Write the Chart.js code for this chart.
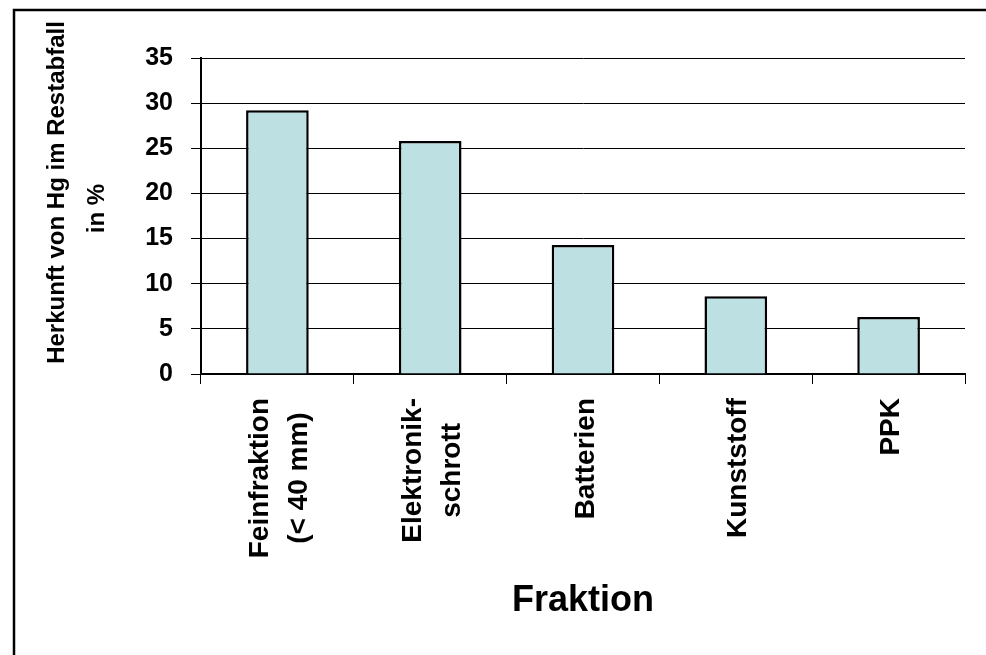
<!DOCTYPE html>
<html>
<head>
<meta charset="utf-8">
<script src="https://cdn.jsdelivr.net/npm/chart.js@4.4.1/dist/chart.umd.min.js"></script>
<style>
  html, body { margin: 0; padding: 0; background: #ffffff; }
  #wrap { width: 986px; height: 655px; position: relative; }
  canvas { display: block; }
</style>
</head>
<body>
<div id="wrap"><canvas id="c" width="986" height="655"></canvas></div>
<script>
// ---- data ----
const categories = [["Feinfraktion", "(< 40 mm)"], ["Elektronik-", "schrott"], ["Batterien"], ["Kunststoff"], ["PPK"]];
const values = [29.2, 25.8, 14.3, 8.6, 6.3];
const yTitleLines = ["Herkunft von Hg im Restabfall", "in %"];
const xTitle = "Fraktion";
const yMin = 0, yMax = 35, yStep = 5;

const FONT = "'Liberation Sans', Arial, Helvetica, sans-serif";

const customText = {
  id: 'customText',
  afterDraw(chart) {
    const ctx = chart.ctx;
    const xs = chart.scales.x;
    ctx.save();
    // outer frame (left + top edges visible)
    ctx.strokeStyle = '#000';
    ctx.lineWidth = 2.5;
    ctx.beginPath();
    ctx.moveTo(14, 660);
    ctx.lineTo(14, 10);
    ctx.lineTo(990, 10);
    ctx.stroke();

    // x category labels, rotated, lines centred on each other
    ctx.fillStyle = '#000';
    ctx.font = 'bold 28px ' + FONT;
    ctx.textAlign = 'center';
    ctx.textBaseline = 'alphabetic';
    const lineGap = 39;
    categories.forEach((lines, i) => {
      const cx = xs.getPixelForValue(i);
      const maxW = Math.max(...lines.map(l => ctx.measureText(l).width));
      const cy = chart.chartArea.bottom + 24 + maxW / 2;
      lines.forEach((l, j) => {
        const bx = cx + (j - (lines.length - 1) / 2) * lineGap + 10.5;
        ctx.save();
        ctx.translate(bx, cy);
        ctx.rotate(-Math.PI / 2);
        ctx.fillText(l, 0, 0);
        ctx.restore();
      });
    });

    // y axis title
    ctx.font = 'bold 24px ' + FONT;
    const yPos = [[64, 192.5], [104, 208.5]];
    yTitleLines.forEach((l, j) => {
      ctx.save();
      ctx.translate(yPos[j][0], yPos[j][1]);
      ctx.rotate(-Math.PI / 2);
      ctx.fillText(l, 0, 0);
      ctx.restore();
    });
    ctx.restore();
  }
};

new Chart(document.getElementById('c'), {
  type: 'bar',
  data: {
    labels: categories,
    datasets: [{
      data: values,
      backgroundColor: '#BDE1E3',
      borderColor: '#000000',
      borderWidth: 2.5,
      barPercentage: 0.41,
      categoryPercentage: 1.0
    }]
  },
  options: {
    responsive: false,
    animation: false,
    devicePixelRatio: 1,
    layout: { padding: { left: 0, right: 21, top: 58, bottom: 0 } },
    plugins: {
      legend: { display: false },
      tooltip: { enabled: false },
      title: { display: false }
    },
    scales: {
      x: {
        offset: true,
        afterFit: (s) => { s.height = 281; },
        grid: {
          offset: true,
          color: (c) => (c.index === categories.length ? '#000000' : 'rgba(0,0,0,0)'),
          tickColor: '#000000',
          lineWidth: 1,
          tickLength: 10,
          drawTicks: true
        },
        border: { display: true, color: '#000000', width: 2 },
        ticks: { display: false },
        title: {
          display: true,
          text: xTitle,
          color: '#000000',
          font: { family: FONT, size: 36, weight: 'bold', lineHeight: 1.2 },
          padding: { top: 0, bottom: 32 }
        }
      },
      y: {
        min: yMin,
        max: yMax,
        afterFit: (s) => { s.width = 201; },
        grid: {
          color: '#000000',
          tickColor: '#000000',
          lineWidth: 1,
          tickLength: 10,
          drawTicks: true
        },
        border: { display: true, color: '#000000', width: 2 },
        ticks: {
          stepSize: yStep,
          color: '#000000',
          padding: 18,
          font: { family: FONT, size: 25, weight: 'bold' }
        },
        title: { display: false }
      }
    }
  },
  plugins: [customText]
});
</script>
</body>
</html>
